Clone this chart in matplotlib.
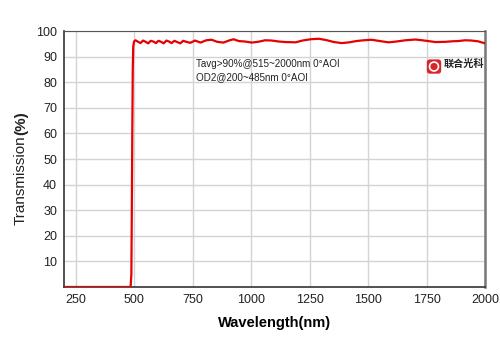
import matplotlib
matplotlib.use('Agg')
import matplotlib.pyplot as plt
from matplotlib.patches import FancyBboxPatch, Circle

# transmission curve (nm, %)
wavelength = [200, 480, 485, 488, 490, 492, 494, 496, 500, 506, 515, 527, 538, 549,
              560, 571, 582, 593, 604, 615, 626, 638, 649, 660, 672, 684, 697, 710,
              723, 740, 760, 784, 808, 831, 855, 882, 905, 925, 947, 975, 1002, 1030,
              1060, 1088, 1120, 1150, 1190, 1220, 1255, 1289, 1320, 1355, 1387, 1420,
              1450, 1481, 1515, 1550, 1588, 1620, 1660, 1703, 1740, 1789, 1830, 1860,
              1887, 1915, 1942, 1970, 1985, 2000]
transmission = [0, 0, 0.3, 5, 30, 60, 85, 94, 96.0, 96.4, 95.9, 95.3, 96.3, 95.8,
                95.2, 96.2, 95.9, 95.3, 96.2, 95.8, 95.2, 96.3, 95.9, 95.3, 96.2, 95.7, 95.2, 96.2,
                95.8, 95.4, 96.3, 95.5, 96.4, 96.6, 95.8, 95.5, 96.3, 96.8, 96.1, 95.9, 95.5, 95.8,
                96.4, 96.3, 95.9, 95.7, 95.6, 96.3, 96.8, 97.0, 96.5, 95.7, 95.3, 95.6,
                96.1, 96.4, 96.6, 96.1, 95.6, 95.9, 96.4, 96.7, 96.3, 95.7, 95.8, 96.0,
                96.1, 96.4, 96.3, 96.0, 95.6, 95.2]

x_ticks = [250, 500, 750, 1000, 1250, 1500, 1750, 2000]
y_ticks = [10, 20, 30, 40, 50, 60, 70, 80, 90, 100]
notes = ['Tavg>90%@515~2000nm 0°AOI', 'OD2@200~485nm 0°AOI']

plt.rcParams['font.family'] = ['Liberation Sans', 'DejaVu Sans']

fig = plt.figure(figsize=(5, 3.53), dpi=100)
ax = fig.add_axes([0.128, 0.187, 0.842, 0.725])

ax.plot(wavelength, transmission, color='#e60000', lw=1.6, zorder=3)

ax.set_xlim(200, 2000)
ax.set_ylim(0, 100)
ax.set_xticks(x_ticks)
ax.set_yticks(y_ticks)
ax.tick_params(length=0, labelsize=9, colors='#222222', pad=5)
ax.grid(True, color='#d4d4d4', lw=1.0)
ax.set_axisbelow(True)

for side in ['left', 'bottom']:
    ax.spines[side].set_color('#333333')
    ax.spines[side].set_linewidth(1.2)
ax.spines['right'].set_color('#777777')
ax.spines['right'].set_linewidth(1.8)
ax.spines['top'].set_color('#555555')
ax.spines['top'].set_linewidth(0.8)

ax.set_xlabel('Wavelength(nm)', fontsize=10.5, fontweight='bold', labelpad=7)
fig.text(0.042, 0.49, 'Transmission', rotation=90, fontsize=11,
         ha='center', va='center', color='#222222')
fig.text(0.042, 0.652, '(%)', rotation=90, fontsize=11, fontweight='bold',
         ha='center', va='center', color='#222222')

fig.text(0.391, 0.818, notes[0], fontsize=7.1, color='#222222', va='center')
fig.text(0.391, 0.781, notes[1], fontsize=7.1, color='#222222', va='center')

# logo
logo = fig.add_axes([0.852, 0.789, 0.032, 0.045])
logo.set_xlim(0, 1)
logo.set_ylim(0, 1)
logo.axis('off')
logo.add_patch(FancyBboxPatch((0.05, 0.05), 0.9, 0.9, boxstyle='round,pad=0,rounding_size=0.2',
                              fc='#d9262b', ec='none'))
logo.add_patch(Circle((0.5, 0.5), 0.28, fc='none', ec='white', lw=1.2))
fig.text(0.887, 0.818, '联合光科', fontsize=7.3, fontweight='bold', color='#222222',
         family=['Noto Sans CJK SC', 'DejaVu Sans'], va='center')

fig.savefig('out.png', dpi=100)
